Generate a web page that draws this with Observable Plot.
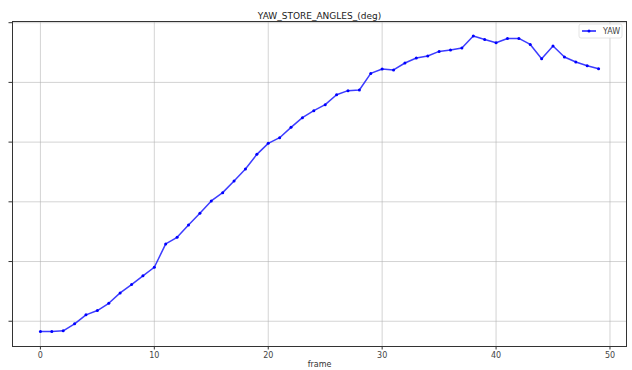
<!DOCTYPE html>
<html>
<head>
<meta charset="utf-8">
<script src="https://cdn.jsdelivr.net/npm/d3@7"></script>
<script src="https://cdn.jsdelivr.net/npm/@observablehq/plot@0.6"></script>
<style>
  html, body { margin: 0; padding: 0; background: #fff; }
  #chart svg { display: block; }
</style>
</head>
<body>
<div id="chart"></div>
<script>
// Yaw store angle per frame
const frames = d3.range(0, 50);
const yaw = [
  -0.172, -0.172, -0.161, -0.044, 0.107, 0.179, 0.301, 0.475, 0.614, 0.760,
  0.904, 1.295, 1.406, 1.613, 1.808, 2.015, 2.154, 2.350, 2.551, 2.795,
  2.979, 3.074, 3.247, 3.409, 3.526, 3.627, 3.794, 3.862, 3.873, 4.151,
  4.224, 4.208, 4.325, 4.408, 4.442, 4.519, 4.542, 4.576, 4.777, 4.720,
  4.664, 4.736, 4.736, 4.636, 4.397, 4.609, 4.425, 4.341, 4.280, 4.229
];
const xTicks = [0, 10, 20, 30, 40, 50];
const yTicks = [0, 1, 2, 3, 4, 5];
const title = "YAW_STORE_ANGLES_(deg)";
const xLabel = "frame";
const seriesName = "YAW";

const data = frames.map((f, i) => ({frame: f, yaw: yaw[i]}));
const blue = "#1a1aff";

const chart = Plot.plot({
  width: 632,
  height: 370,
  marginLeft: 12,
  marginRight: 6,
  marginTop: 21,
  marginBottom: 24,
  style: {fontFamily: "DejaVu Sans, sans-serif", fontSize: "8px", color: "#333", background: "#fff"},
  x: {domain: [-2.45, 51.45]},
  y: {domain: [-0.423, 5.02]},
  marks: [
    Plot.gridX(xTicks, {stroke: "#b0b0b0", strokeOpacity: 0.7, strokeWidth: 0.8}),
    Plot.gridY(yTicks, {stroke: "#b0b0b0", strokeOpacity: 0.7, strokeWidth: 0.8}),
    Plot.axisX(xTicks, {tickSize: 3.5, tickPadding: 2, label: null, stroke: "#333", fill: "#444"}),
    Plot.axisY(yTicks, {tickSize: 3.5, tickFormat: () => "", label: null, stroke: "#333"}),
    Plot.frame({stroke: "#333", strokeWidth: 1}),
    Plot.line(data, {x: "frame", y: "yaw", stroke: blue, strokeWidth: 1.5, strokeOpacity: 0.85}),
    Plot.dot(data, {x: "frame", y: "yaw", r: 1.5, fill: "#0000ff", stroke: "none"}),
    Plot.text([title], {frameAnchor: "top", dy: -9, fontSize: 9, fill: "#222"}),
    Plot.text([xLabel], {frameAnchor: "bottom", dy: 20, fontSize: 8, fill: "#333"})
  ]
});

// Legend box in the upper right corner of the axes
const svg = d3.select(chart);
const lg = svg.append("g").attr("transform", "translate(579,24)");
lg.append("rect").attr("width", 43).attr("height", 14).attr("rx", 2)
  .attr("fill", "#fff").attr("fill-opacity", 0.85).attr("stroke", "#ddd").attr("stroke-width", 0.8);
lg.append("line").attr("x1", 3).attr("x2", 17).attr("y1", 7).attr("y2", 7)
  .attr("stroke", blue).attr("stroke-width", 1.5);
lg.append("circle").attr("cx", 10).attr("cy", 7).attr("r", 1.5).attr("fill", "#0000ff");
lg.append("text").attr("x", 24).attr("y", 7).attr("dy", "0.35em")
  .attr("text-anchor", "start")
  .attr("font-size", 8).attr("fill", "#444").text(seriesName);

document.getElementById("chart").appendChild(chart);
</script>
</body>
</html>
